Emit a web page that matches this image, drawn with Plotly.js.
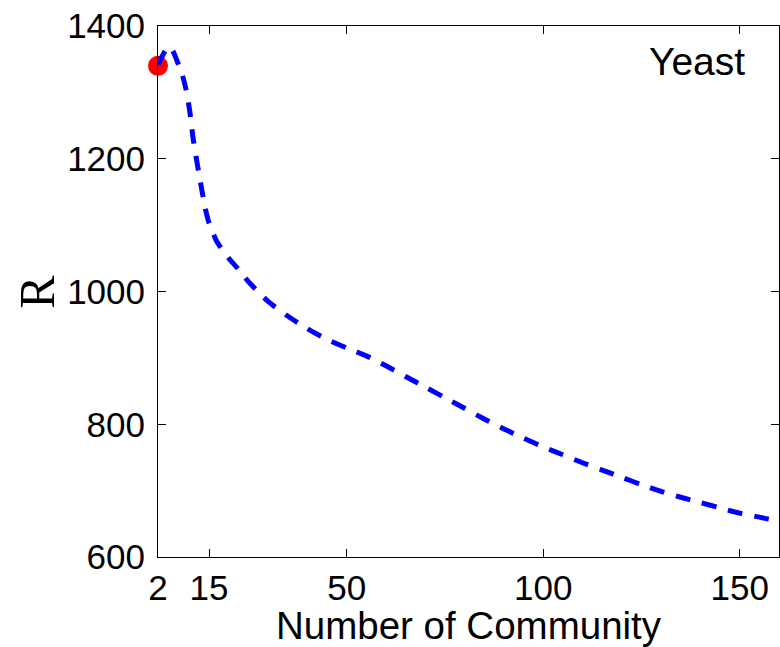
<!DOCTYPE html>
<html>
<head>
<meta charset="utf-8">
<script src="https://cdn.plot.ly/plotly-3.0.1.min.js"></script>
<style>html,body{margin:0;padding:0;background:#fff;}#chart{width:780px;height:647px;}</style>
</head>
<body>
<div id="chart"></div>
<script>
// Number of communities (x) and R values (y)
const communities = [2, 4, 5, 6, 7, 8, 9, 10, 11, 12, 13, 14, 15, 17, 20, 23, 25, 30, 35, 40, 45, 50, 55, 60, 65, 70, 75, 80, 85, 90, 95, 100, 105, 110, 115, 120, 125, 130, 135, 140, 145, 150, 155, 160];
const rValues = [1342, 1364, 1369, 1360, 1345, 1330, 1308, 1275, 1228, 1192, 1158, 1126, 1103, 1075, 1050, 1030, 1015, 985, 963, 944, 928, 915, 903, 888, 872, 856, 840, 824, 808, 793, 779, 766, 754, 742, 731, 720, 709, 699, 690, 682, 674, 666, 660, 654];
const markX = [2];
const markY = [1340];
const xTicks = [2, 15, 50, 100, 150];
const yTicks = [600, 800, 1000, 1200, 1400];
const datasetLabel = 'Yeast';
const yLabel = 'R';

const traces = [
  {
    x: markX, y: markY, type: 'scatter', mode: 'markers',
    marker: {color: '#ff0000', size: 20, line: {width: 0}},
    cliponaxis: false, hoverinfo: 'skip'
  },
  {
    x: communities, y: rValues, type: 'scatter', mode: 'lines',
    line: {color: '#0000ff', width: 5, dash: '15px,12px', shape: 'spline', smoothing: 0.6},
    cliponaxis: false, hoverinfo: 'skip'
  }
];

const layout = {
  width: 780, height: 647,
  margin: {l: 158, r: 1, t: 26, b: 90},
  paper_bgcolor: '#ffffff', plot_bgcolor: '#ffffff',
  showlegend: false,
  font: {family: 'Liberation Sans, Arial, sans-serif', color: '#000'},
  xaxis: {
    range: [2, 160], tickvals: xTicks, ticktext: xTicks.map(String),
    ticks: 'inside', ticklen: 8, tickwidth: 1, tickcolor: '#000',
    showline: true, linecolor: '#000', linewidth: 1, mirror: 'ticks',
    showgrid: false, zeroline: false,
    tickfont: {size: 35, family: 'Liberation Sans, Arial, sans-serif'},
    title: {text: 'Number of Community', font: {size: 38.5, family: 'Liberation Sans, Arial, sans-serif'}, standoff: 0}
  },
  yaxis: {
    range: [600, 1400], tickvals: yTicks, ticktext: yTicks.map(String),
    ticks: 'inside', ticklen: 8, tickwidth: 1, tickcolor: '#000',
    showline: true, linecolor: '#000', linewidth: 1, mirror: 'ticks',
    showgrid: false, zeroline: false, ticklabelstandoff: 5,
    tickfont: {size: 35, family: 'Liberation Sans, Arial, sans-serif'}
  },
  annotations: [
    {
      text: datasetLabel, xref: 'paper', yref: 'paper', x: 0.948, y: 0.978,
      xanchor: 'right', yanchor: 'top', showarrow: false,
      font: {size: 39, family: 'Liberation Sans, Arial, sans-serif', color: '#000'}
    },
    {
      text: yLabel, xref: 'paper', yref: 'paper', x: -0.196, y: 0.5,
      xanchor: 'center', yanchor: 'middle', textangle: -90, showarrow: false,
      font: {size: 50, family: 'Liberation Serif, Times New Roman, serif', color: '#000'}
    }
  ]
};

Plotly.newPlot('chart', traces, layout, {staticPlot: true, displayModeBar: false});
</script>
</body>
</html>
